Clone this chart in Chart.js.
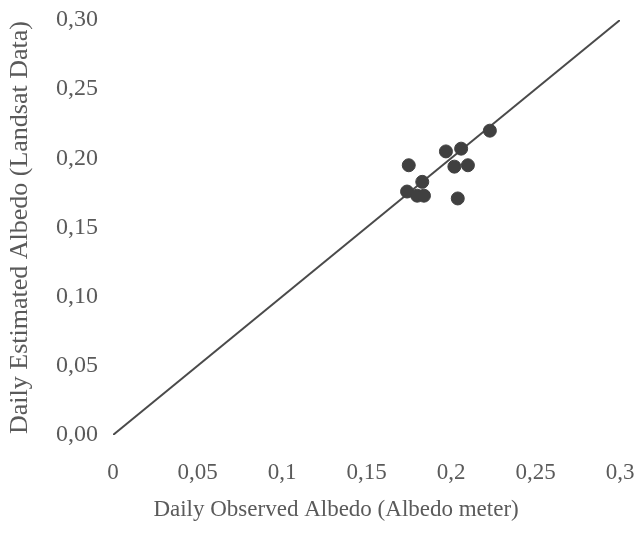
<!DOCTYPE html>
<html>
<head>
<meta charset="utf-8">
<script src="https://cdn.jsdelivr.net/npm/chart.js@4"></script>
<style>
  html, body { margin: 0; padding: 0; background: #ffffff; }
  #wrap { width: 634px; height: 534px; position: relative; }
</style>
</head>
<body>
<div id="wrap"><canvas id="c"></canvas></div>
<script>
// Observed (albedo meter) vs. estimated (Landsat) daily albedo
const observed  = [0.223, 0.197, 0.206, 0.175, 0.202, 0.210, 0.183, 0.174, 0.180, 0.184, 0.204];
const estimated = [0.220, 0.205, 0.207, 0.195, 0.194, 0.195, 0.183, 0.176, 0.173, 0.173, 0.171];

// 1:1 reference line
const lineX = [0, 0.3];
const lineY = [0, 0.3];

// Axis tick labels (comma decimal separator)
const xTickLabels = ['0', '0,05', '0,1', '0,15', '0,2', '0,25', '0,3'];
const yTickLabels = ['0,00', '0,05', '0,10', '0,15', '0,20', '0,25', '0,30'];
const tickValues = [0, 0.05, 0.1, 0.15, 0.2, 0.25, 0.3];

const xTitle = 'Daily Observed Albedo (Albedo meter)';
const yTitle = 'Daily Estimated Albedo (Landsat Data)';

const textColor = '#5a5a5a';
const fontFamily = '"Liberation Serif", "Times New Roman", serif';

const points = observed.map((v, i) => ({ x: v, y: estimated[i] }));
const linePts = lineX.map((v, i) => ({ x: v, y: lineY[i] }));

function labelFor(list, value) {
  const i = tickValues.findIndex(t => Math.abs(t - value) < 1e-9);
  return i >= 0 ? list[i] : '';
}

function fixedTicks(scale) {
  scale.ticks = tickValues.map(v => ({ value: v }));
}

// Horizontal axis title, placed a little left of the plot's right side
const xTitlePlugin = {
  id: 'xTitle',
  afterDraw(chart) {
    const { ctx, chartArea } = chart;
    const cx = chartArea.left + (chartArea.right - chartArea.left) * 0.44;
    ctx.save();
    ctx.font = '23px ' + fontFamily;
    ctx.fillStyle = textColor;
    ctx.textAlign = 'center';
    ctx.textBaseline = 'middle';
    ctx.fillText(xTitle, cx, chart.height - 24);
    ctx.restore();
  }
};

new Chart(document.getElementById('c'), {
  type: 'scatter',
  data: {
    datasets: [
      {
        label: 'Albedo',
        data: points,
        backgroundColor: '#404040',
        borderColor: '#404040',
        pointRadius: 6.5,
        pointHoverRadius: 6.5,
        order: 1
      },
      {
        label: '1:1',
        type: 'line',
        data: linePts,
        borderColor: '#4a4a4a',
        borderWidth: 2,
        pointRadius: 0,
        fill: false,
        order: 2
      }
    ]
  },
  plugins: [xTitlePlugin],
  options: {
    responsive: true,
    maintainAspectRatio: false,
    animation: false,
    layout: { padding: { top: 20, right: 14, left: 0, bottom: 0 } },
    plugins: {
      legend: { display: false },
      tooltip: { enabled: false }
    },
    scales: {
      x: {
        type: 'linear',
        min: 0,
        max: 0.3,
        afterBuildTicks: fixedTicks,
        afterFit: s => {
          s.height = 99;
          s.paddingLeft = 0;
          s.paddingRight = 0;
        },
        grid: { display: false, drawTicks: false },
        border: { display: false },
        ticks: {
          padding: 24,
          color: textColor,
          font: { family: fontFamily, size: 23 },
          maxRotation: 0,
          autoSkip: false,
          callback: v => labelFor(xTickLabels, v)
        },
        title: { display: false }
      },
      y: {
        type: 'linear',
        min: 0,
        max: 0.3,
        afterBuildTicks: fixedTicks,
        afterFit: s => {
          s.width = 113;
          s.paddingTop = 0;
          s.paddingBottom = 0;
        },
        grid: { display: false, drawTicks: false },
        border: { display: false },
        ticks: {
          padding: 15,
          color: textColor,
          font: { family: fontFamily, size: 24 },
          autoSkip: false,
          callback: v => labelFor(yTickLabels, v)
        },
        title: {
          display: true,
          text: yTitle,
          color: textColor,
          font: { family: fontFamily, size: 26 },
          padding: { top: 5, bottom: 0 }
        }
      }
    }
  }
});
</script>
</body>
</html>
